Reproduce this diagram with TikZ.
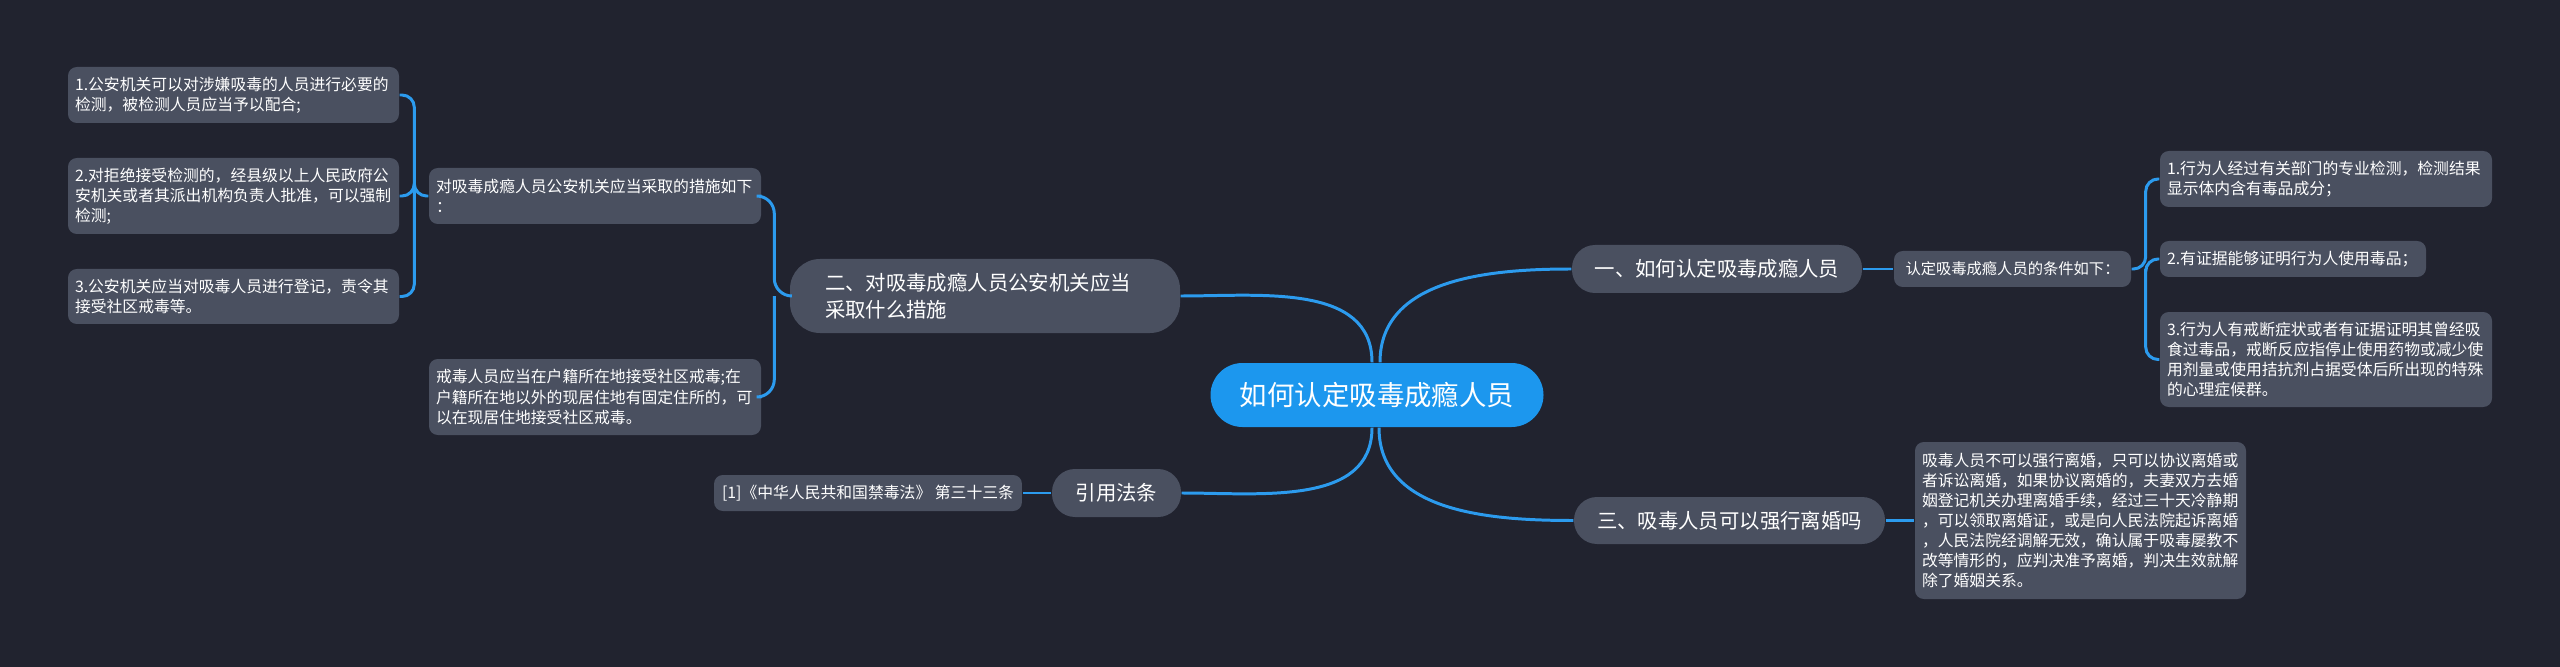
\documentclass[tikz,border=0pt]{standalone}
\usepackage{fontspec}
\setmainfont{Noto Sans CJK SC}
\usepackage{xcolor}
\usepackage{tikz}
\usetikzlibrary{positioning,calc}

\definecolor{bgdark}{HTML}{21232F}
\definecolor{boxgray}{HTML}{4A5060}
\definecolor{rootblue}{HTML}{1C97EE}
\definecolor{linkblue}{HTML}{2C9BEE}

\begin{document}
\begin{tikzpicture}[
  every node/.style={text=white},
  rootbox/.style={fill=rootblue, rounded corners=0.32cm, minimum width=3.33cm, minimum height=0.64cm,
    font=\fontsize{7.8}{9.4}\selectfont},
  branch/.style={fill=boxgray, rounded corners=0.23cm, minimum height=0.48cm, inner xsep=0.2cm,
    font=\fontsize{5.8}{7.6}\selectfont},
  leaf/.style={fill=boxgray, rounded corners=2.5pt, align=left, inner xsep=0.07cm, inner ysep=0pt,
    font=\fontsize{4.5}{5.7}\selectfont},
  link/.style={draw=linkblue, line width=0.85pt, rounded corners=3.5pt},
]
  % background
  \fill[bgdark] (0,0) rectangle (25.6,-6.67);
  \useasboundingbox (0,0) rectangle (25.6,-6.67);

  % centre
  \node[rootbox] (root) at (13.77,-3.95) {如何认定吸毒成瘾人员};

  % left branch: measures
  \node[branch, rounded corners=0.3cm, align=left, text width=3.2cm, inner xsep=0.35cm, minimum height=0.74cm]
    (meas) at (9.85,-2.96) {二、对吸毒成瘾人员公安机关应当\\采取什么措施};
  \node[leaf, text width=3.18cm, minimum height=0.56cm] (measA) at (5.95,-1.96)
    {对吸毒成瘾人员公安机关应当采取的措施如下\\：};
  \node[leaf, text width=3.18cm, minimum height=0.76cm] (measB) at (5.95,-3.97)
    {戒毒人员应当在户籍所在地接受社区戒毒;在\\户籍所在地以外的现居住地有固定住所的，可\\以在现居住地接受社区戒毒。};
  \node[leaf, text width=3.17cm, minimum height=0.56cm] (stepA) at (2.335,-0.95)
    {1.公安机关可以对涉嫌吸毒的人员进行必要的\\检测，被检测人员应当予以配合;};
  \node[leaf, text width=3.17cm, minimum height=0.76cm] (stepB) at (2.335,-1.96)
    {2.对拒绝接受检测的，经县级以上人民政府公\\安机关或者其派出机构负责人批准，可以强制\\检测;};
  \node[leaf, text width=3.17cm, minimum height=0.55cm] (stepC) at (2.335,-2.965)
    {3.公安机关应当对吸毒人员进行登记，责令其\\接受社区戒毒等。};

  % left branch: law
  \node[branch, minimum width=1.29cm] (law) at (11.165,-4.93) {引用法条};
  \node[leaf, minimum height=0.36cm, inner xsep=0.08cm] (lawref) at (8.68,-4.93)
    {[1]《中华人民共和国禁毒法》 第三十三条};

  % right branch: criteria
  \node[branch, minimum width=2.9cm] (crit) at (17.17,-2.69) {一、如何认定吸毒成瘾人员};
  \node[leaf, minimum width=2.37cm, minimum height=0.36cm, font=\fontsize{4.35}{5.5}\selectfont]
    (critlist) at (20.125,-2.69) {认定吸毒成瘾人员的条件如下：};
  \node[leaf, text width=3.18cm, minimum height=0.56cm] (critA) at (23.26,-1.79)
    {1.行为人经过有关部门的专业检测，检测结果\\显示体内含有毒品成分；};
  \node[leaf, text width=2.52cm, minimum height=0.36cm] (critB) at (22.93,-2.59)
    {2.有证据能够证明行为人使用毒品；};
  \node[leaf, text width=3.18cm, minimum height=0.95cm] (critC) at (23.26,-3.595)
    {3.行为人有戒断症状或者有证据证明其曾经吸\\食过毒品，戒断反应指停止使用药物或减少使\\用剂量或使用拮抗剂占据受体后所出现的特殊\\的心理症候群。};

  % right branch: divorce
  \node[branch, minimum width=3.11cm, minimum height=0.47cm] (divorce) at (17.295,-5.205) {三、吸毒人员可以强行离婚吗};
  \node[leaf, text width=3.17cm, minimum height=1.57cm] (divtext) at (20.805,-5.205)
    {吸毒人员不可以强行离婚，只可以协议离婚或\\者诉讼离婚，如果协议离婚的，夫妻双方去婚\\姻登记机关办理离婚手续，经过三十天冷静期\\，可以领取离婚证，或是向人民法院起诉离婚\\，人民法院经调解无效，确认属于吸毒屡教不\\改等情形的，应判决准予离婚，判决生效就解\\除了婚姻关系。};

  % junctions
  \coordinate (measJ) at ([xshift=-0.15cm]meas.west);
  \coordinate (measAJ) at ([xshift=-0.14cm]measA.west);
  \coordinate (critJ) at ([xshift=0.14cm]critlist.east);

  % connectors from the centre
  \draw[link] ([xshift=0.03cm]root.north) to[out=90,in=180] (crit.west);
  \draw[link] ([xshift=-0.05cm]root.north) to[out=90,in=0] (meas.east);
  \draw[link] ([xshift=-0.05cm]root.south) to[out=-90,in=0] (law.east);
  \draw[link] ([xshift=0.02cm]root.south) to[out=-90,in=180] (divorce.west);

  % connectors to the leaves
  \draw[link] (crit.east) -- (critlist.west);
  \draw[link] (critlist.east) -- (critJ) |- (critA.west);
  \draw[link] (critJ) |- (critB.west);
  \draw[link] (critJ) |- (critC.west);
  \draw[link] (divorce.east) -- (divtext.west);
  \draw[link] (law.west) -- (lawref.east);
  \draw[link, rounded corners=5pt] (meas.west) -- (measJ) |- (measA.east);
  \draw[link, rounded corners=5pt] (measJ) |- (measB.east);
  \draw[link] (measA.west) -- (measAJ) |- (stepA.east);
  \draw[link] (measAJ) |- (stepB.east);
  \draw[link] (measAJ) |- (stepC.east);
\end{tikzpicture}
\end{document}
